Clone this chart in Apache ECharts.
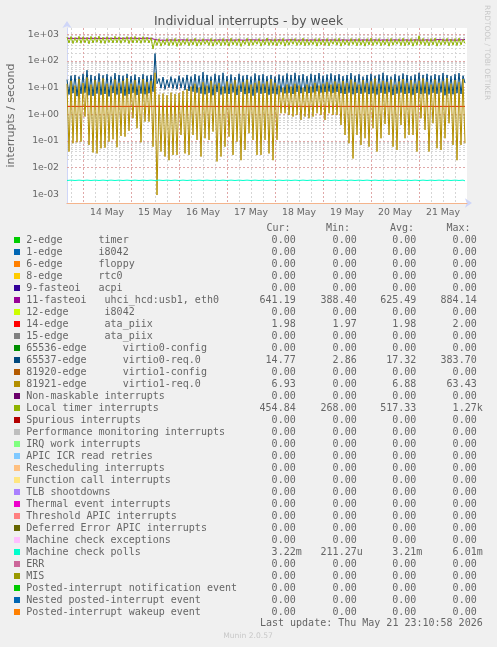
<!DOCTYPE html>
<html><head><meta charset="utf-8">
<script src="https://cdn.jsdelivr.net/npm/echarts@6/dist/echarts.min.js"></script>
<style>html,body{margin:0;padding:0;background:#F0F0F0;}#chart{width:497px;height:647px;}</style>
</head><body><div id="chart"></div>
<script>
// ---------- categories: hourly samples from 13 May 16:00 to 22 May 00:00 ----------
const MONTHS = ['Jan','Feb','Mar','Apr','May','Jun','Jul','Aug','Sep','Oct','Nov','Dec'];
const categories = [];
const t0 = Date.UTC(2026, 4, 13, 16);
for (let i = 0; i <= 200; i++) {
  const d = new Date(t0 + i * 3600e3);
  categories.push(d.getUTCDate() + ' ' + MONTHS[d.getUTCMonth()] + ' ' + String(d.getUTCHours()).padStart(2, '0') + ':00');
}

// ---------- series values (interrupts / second) ----------
const fasteoi11 = [
 700,705,710,700,695,705,710,700,
 705,700,710,715,700,695,705,710,700,690,700,705,715,710,700,705,695,700,710,705,700,715,720,705,
 710,700,705,715,700,710,705,700,720,710,700,690,640,590,600,610,605,615,600,610,620,605,600,615,
 610,600,620,615,605,600,610,620,615,605,600,595,610,620,615,600,605,610,600,615,620,610,605,600,
 615,620,610,600,605,615,620,610,600,605,615,610,620,625,615,600,610,605,600,615,620,610,615,605,
 600,610,620,615,605,600,610,620,625,615,610,600,605,615,620,610,600,605,615,620,610,605,600,615,
 620,610,605,600,615,620,610,605,600,610,620,615,605,600,610,620,615,610,605,600,615,620,610,600,
 605,615,620,610,600,605,615,620,610,600,605,610,620,615,605,600,610,620,615,605,600,610,620,615,
 610,600,605,615,620,610,600,605,615,620,640,625,610,600,605,615,620,610,600,605,615,620,630,641
];
const ataPiix14 = [
 1.98,1.98,1.98,1.98,1.98,1.98,1.98,1.98,
 1.98,1.98,1.98,1.98,1.98,1.98,1.98,1.98,1.98,1.98,1.98,1.98,1.98,1.98,1.98,1.98,1.98,1.98,1.98,1.98,1.98,1.98,1.98,1.98,
 1.98,1.98,1.98,1.98,1.98,1.98,1.98,1.98,1.98,1.98,1.98,1.98,2.00,1.97,1.98,1.98,1.98,1.98,1.98,1.98,1.98,1.98,1.98,1.98,
 1.98,1.98,1.98,1.98,1.98,1.98,1.98,1.98,1.98,1.98,1.98,1.98,1.98,1.98,1.98,1.98,1.98,1.98,1.98,1.98,1.98,1.98,1.98,1.98,
 1.98,1.98,1.98,1.98,1.98,1.98,1.98,1.98,1.98,1.98,1.98,1.98,1.98,1.98,1.98,1.98,1.98,1.98,1.98,1.98,1.98,1.98,1.98,1.98,
 1.98,1.98,1.98,1.98,1.98,1.98,1.98,1.98,1.98,1.98,1.98,1.98,1.98,1.98,1.98,1.98,1.98,1.98,1.98,1.98,1.98,1.98,1.98,1.98,
 1.98,1.98,1.98,1.98,1.98,1.98,1.98,1.98,1.98,1.98,1.98,1.98,1.98,1.98,1.98,1.98,1.98,1.98,1.98,1.98,1.98,1.98,1.98,1.98,
 1.98,1.98,1.98,1.98,1.98,1.98,1.98,1.98,1.98,1.98,1.98,1.98,1.98,1.98,1.98,1.98,1.98,1.98,1.98,1.98,1.98,1.98,1.98,1.98,
 1.98,1.98,1.98,1.98,1.98,1.98,1.98,1.98,1.98,1.98,1.98,1.98,1.98,1.98,1.98,1.98,1.98,1.98,1.98,1.98,1.98,1.98,1.98,1.98
];
const virtio0Req = [
 20,5.5,28,6.2,30,4.8,26,5.9,
 33,6.5,45,5.2,30,4.9,27,6.0,34,5.4,29,5.8,32,4.7,26,6.3,35,5.5,30,6.1,28,5.0,33,5.7,
 27,6.4,31,5.3,25,6.0,32,5.6,28,6.2,30,7.0,190,14,22,9.5,25,8.6,20,10,26,9.2,22,8.8,
 28,9.5,24,8.2,30,7.5,26,7.0,32,6.5,28,6.0,38,5.6,30,6.4,26,5.2,33,6.8,29,5.5,36,6.1,
 27,5.8,31,6.6,25,5.3,33,6.9,28,5.7,30,6.2,26,5.0,34,6.5,29,5.9,32,6.3,27,5.4,30,6.0,
 26,5.6,31,6.7,28,6.1,34,6.4,30,5.8,36,6.9,29,6.2,32,7.0,27,6.3,33,6.6,30,7.2,35,6.5,
 28,6.8,31,7.1,34,6.4,29,6.9,32,6.2,27,5.8,30,6.5,35,5.6,28,6.3,32,5.9,26,6.6,30,5.7,
 33,6.1,28,5.5,31,6.4,36,5.9,29,6.7,26,5.3,32,6.0,28,6.5,34,5.8,30,6.2,27,5.4,31,6.3,
 36,5.7,30,6.1,33,5.5,28,6.4,32,5.9,29,6.6,35,5.2,30,6.0,27,5.6,32,6.2,35,5.8,28,14.8
];
const virtio1Req = [
 14,0.040,18,0.082,12,0.089,21,0.094,
 15,0.82,24,0.071,13,0.037,19,0.034,16,0.053,22,0.056,14,0.094,12,0.115,20,0.058,15,0.154,18,0.145,23,0.24,
 14,0.71,19,0.3,12,0.089,21,0.53,16,0.53,18,0.061,36,0.00094,5.5,0.040,6.0,0.026,5.2,0.019,6.5,0.030,5.8,0.030,
 6.2,0.168,7.5,0.034,9,0.030,11,0.168,14,0.109,10,0.026,16,0.126,12,0.109,18,0.224,13,0.017,15,0.026,11,0.061,
 17,0.145,14,0.030,19,0.094,12,0.019,16,0.046,20,0.194,13,0.109,15,0.030,18,0.030,14,0.109,17,0.034,21,0.019,
 15,0.109,12,1.09,10,1.09,13,0.944,11,0.818,14,0.944,12,0.613,10,0.818,13,0.708,11,0.818,15,1.09,12,0.944,
 14,0.613,16,1.09,13,0.944,17,0.944,14,0.398,18,0.168,15,0.082,20,0.022,16,0.168,13,0.071,19,0.126,15,0.061,
 17,0.299,22,0.040,14,0.126,18,0.43,16,0.168,20,0.061,13,0.046,17,0.398,21,0.126,15,0.168,19,0.168,14,0.040,
 18,0.708,22,0.259,16,0.040,13,0.46,20,0.053,15,0.046,17,0.126,23,0.46,14,0.071,19,0.019,16,0.071,21,0.082
];
const localTimer = [
 790,470,820,450,760,490,840,460,
 800,480,770,440,830,470,790,500,850,460,780,450,810,490,760,470,840,480,800,460,770,500,820,450,
 790,470,830,480,760,460,810,490,780,470,750,280,640,380,680,360,620,400,690,370,650,390,700,350,
 660,380,630,410,690,370,650,400,710,360,640,390,680,420,620,380,700,360,660,410,630,370,690,390,
 650,360,710,400,640,380,680,350,620,410,700,370,660,390,630,420,690,360,650,400,720,380,640,390,
 680,370,650,410,700,360,630,390,670,420,690,380,640,400,710,370,660,390,630,410,680,360,700,400,
 650,380,690,370,640,420,680,390,710,360,650,400,630,380,690,410,660,370,700,390,640,360,680,400,
 720,380,650,410,690,370,630,400,670,360,700,390,640,420,680,380,710,370,650,400,690,360,660,390,
 880,410,700,380,650,370,690,400,720,360,640,390,680,410,700,370,660,390,690,380,720,400,650,455
];
const machineCheckPolls = [
 0.0033,0.0031,0.0034,0.0030,0.0033,0.0031,0.0034,0.0030,
 0.0033,0.0031,0.0034,0.0030,0.0033,0.0031,0.0034,0.0030,0.0033,0.0038,0.0034,0.0030,0.0033,0.0031,0.0034,0.0030,0.0033,0.0031,0.0034,0.0030,0.0033,0.0031,0.0034,0.0030,
 0.0033,0.0031,0.0034,0.0030,0.0033,0.0031,0.0034,0.0030,0.0033,0.0031,0.0034,0.0030,0.0033,0.0031,0.0034,0.0030,0.0033,0.0031,0.0034,0.0030,0.0033,0.0031,0.0034,0.0030,
 0.0033,0.0031,0.0034,0.0030,0.0033,0.0031,0.0034,0.0030,0.0033,0.0031,0.0034,0.0030,0.0033,0.0031,0.0034,0.0030,0.0033,0.0031,0.0034,0.0030,0.0033,0.0031,0.0034,0.0030,
 0.0033,0.0031,0.0034,0.0030,0.0033,0.0031,0.0034,0.0030,0.0033,0.0031,0.0034,0.0030,0.0033,0.0031,0.0034,0.0030,0.0033,0.0031,0.0034,0.0030,0.0033,0.0031,0.0034,0.0030,
 0.0033,0.0031,0.0034,0.0030,0.0033,0.0031,0.0034,0.0030,0.0033,0.0031,0.0034,0.0030,0.0033,0.0031,0.0034,0.0030,0.0033,0.0031,0.0034,0.0030,0.0033,0.0031,0.0034,0.0030,
 0.0033,0.0031,0.0034,0.0030,0.0033,0.0031,0.0034,0.0030,0.0033,0.0031,0.0034,0.0030,0.0033,0.0031,0.0034,0.0030,0.0033,0.0031,0.0034,0.0030,0.0033,0.0031,0.0034,0.0030,
 0.0033,0.0031,0.0034,0.0030,0.0033,0.0031,0.0034,0.0030,0.0033,0.0031,0.0034,0.0030,0.0033,0.0031,0.0034,0.0030,0.0033,0.0031,0.0034,0.0030,0.0033,0.0031,0.0034,0.0030,
 0.0033,0.0031,0.0034,0.0030,0.0033,0.0031,0.0034,0.0030,0.0033,0.0031,0.0034,0.0030,0.0033,0.0031,0.0034,0.0030,0.0033,0.0031,0.0034,0.0030,0.0033,0.0031,0.0034,0.0032
];

// ---------- axis tick labels ----------
const yTickLabels = ['1e-03','1e-02','1e-01','1e+00','1e+01','1e+02','1e+03'];
const yMajor = [1e-3, 1e-2, 1e-1, 1, 10, 100, 1000];
const yMin = Math.pow(10, -3.326), yMax = Math.pow(10, 3.236);

// ---------- legend ----------
const legendLabels = [
 '2-edge      timer','1-edge      i8042','6-edge      floppy','8-edge      rtc0','9-fasteoi   acpi',
 '11-fasteoi   uhci_hcd:usb1, eth0','12-edge      i8042','14-edge      ata_piix','15-edge      ata_piix',
 '65536-edge      virtio0-config','65537-edge      virtio0-req.0','81920-edge      virtio1-config','81921-edge      virtio1-req.0',
 'Non-maskable interrupts','Local timer interrupts','Spurious interrupts','Performance monitoring interrupts',
 'IRQ work interrupts','APIC ICR read retries','Rescheduling interrupts','Function call interrupts','TLB shootdowns',
 'Thermal event interrupts','Threshold APIC interrupts','Deferred Error APIC interrupts','Machine check exceptions',
 'Machine check polls','ERR','MIS','Posted-interrupt notification event','Nested posted-interrupt event','Posted-interrupt wakeup event'
];
const legendColors = ['#00CC00','#0066B3','#FF8000','#FFCC00','#330099','#990099','#CCFF00','#FF0000','#808080','#008F00',
 '#00487D','#B35A00','#B38F00','#6B006B','#8FB300','#B30000','#BEBEBE','#80FF80','#80C9FF','#FFC080','#FFE680','#AA80FF',
 '#EE00CC','#FF8080','#666600','#FFBFFF','#00FFCC','#CC6699','#999900','#00CC00','#0066B3','#FF8000'];
const Z = '0.00';
const curVals = [Z,Z,Z,Z,Z,'641.19',Z,'1.98',Z,Z,'14.77',Z,'6.93',Z,'454.84',Z,Z,Z,Z,Z,Z,Z,Z,Z,Z,Z,'3.22m',Z,Z,Z,Z,Z];
const minVals = [Z,Z,Z,Z,Z,'388.40',Z,'1.97',Z,Z,'2.86',Z,'0.00',Z,'268.00',Z,Z,Z,Z,Z,Z,Z,Z,Z,Z,Z,'211.27u',Z,Z,Z,Z,Z];
const avgVals = [Z,Z,Z,Z,Z,'625.49',Z,'1.98',Z,Z,'17.32',Z,'6.88',Z,'517.33',Z,Z,Z,Z,Z,Z,Z,Z,Z,Z,Z,'3.21m',Z,Z,Z,Z,Z];
const maxVals = [Z,Z,Z,Z,Z,'884.14',Z,'2.00',Z,Z,'383.70',Z,'63.43',Z,'1.27k',Z,Z,Z,Z,Z,Z,Z,Z,Z,Z,Z,'6.01m',Z,Z,Z,Z,Z];
const colHeaders = ['Cur:','Min:','Avg:','Max:'];

// ---------- layout / style ----------
const FONT = '"DejaVu Sans", sans-serif';
const MONO = '"DejaVu Sans Mono", monospace';
const TXT = '#666666';
const G_LEFT = 67, G_TOP = 28, G_W = 400, G_H = 175;

const minorY = [];
for (let e = -4; e <= 3; e++) for (let k = 2; k <= 9; k++) {
  const v = k * Math.pow(10, e);
  if (v > yMin && v < yMax) minorY.push(v);
}
const gridLines = minorY.map(v => ({yAxis: v, lineStyle: {color: '#D6D6D6'}}))
  .concat(yMajor.map(v => ({yAxis: v, lineStyle: {color: '#E0A8A8'}})));

function lineSeries(name, data, color) {
  return {name, type: 'line', data, symbol: 'none', showSymbol: false, silent: true, animation: false,
    lineStyle: {width: 1, color}, itemStyle: {color}, emphasis: {disabled: true}, z: 3};
}

const graphics = [];
graphics.push({type: 'text', x: 487, y: 5, rotation: -Math.PI / 2,
  style: {text: 'RRDTOOL / TOBI OETIKER', font: '7.4px ' + FONT, fill: '#C8C8C8', textAlign: 'left', textVerticalAlign: 'middle'}});
const hdrX = [266.5, 326, 390, 446.5];
colHeaders.forEach((h, j) => graphics.push({type: 'text', x: hdrX[j], y: 228,
  style: {text: h, font: '10px ' + MONO, fill: TXT, textAlign: 'left', textVerticalAlign: 'middle'}}));
const colRight = [295.7, 356.7, 416.3, 476.7];
const cols = [curVals, minVals, avgVals, maxVals];
legendLabels.forEach((lab, i) => {
  const y = 240 + i * 12;
  graphics.push({type: 'rect', shape: {x: 14, y: y - 3, width: 6, height: 6}, style: {fill: legendColors[i]}});
  graphics.push({type: 'text', x: 26.3, y, style: {text: lab, font: '10px ' + MONO, fill: TXT, textAlign: 'left', textVerticalAlign: 'middle'}});
  cols.forEach((arr, j) => {
    let s = arr[i], suf = '';
    if (/[a-z]$/i.test(s)) { suf = s.slice(-1); s = s.slice(0, -1); }
    graphics.push({type: 'text', x: colRight[j], y, style: {text: s, font: '10px ' + MONO, fill: TXT, textAlign: 'right', textVerticalAlign: 'middle'}});
    if (suf) graphics.push({type: 'text', x: colRight[j], y, style: {text: suf, font: '10px ' + MONO, fill: TXT, textAlign: 'left', textVerticalAlign: 'middle'}});
  });
});
graphics.push({type: 'text', x: 482.7, y: 623.5, style: {text: 'Last update: Thu May 21 23:10:58 2026', font: '10px ' + MONO, fill: TXT, textAlign: 'right', textVerticalAlign: 'middle'}});
graphics.push({type: 'text', x: 248, y: 636, style: {text: 'Munin 2.0.57', font: '7.6px ' + FONT, fill: '#C8C8C8', textAlign: 'center', textVerticalAlign: 'middle'}});

const isNoon = (i, v) => v.endsWith(' 12:00');
const isMidnight = (i, v) => v.endsWith(' 00:00') && i > 0 && i < categories.length - 1;
const isSixHour = (i, v) => (v.endsWith(' 06:00') || v.endsWith(' 18:00') || v.endsWith(' 12:00'));

const option = {
  backgroundColor: '#F0F0F0',
  animation: false,
  title: {text: 'Individual interrupts - by week', left: 'center', top: 11,
    textStyle: {fontSize: 12.4, fontWeight: 'normal', color: '#555555', fontFamily: FONT}},
  grid: {left: G_LEFT, top: G_TOP, width: G_W, height: G_H, show: true, backgroundColor: '#FFFFFF', borderWidth: 0,
    containLabel: false, outerBoundsMode: 'none'},
  xAxis: [{
    type: 'category', data: categories, boundaryGap: false, position: 'bottom', z: 2,
    axisLine: {show: true, lineStyle: {color: '#F4B48C', width: 1}},
    axisTick: {show: false},
    axisLabel: {interval: isNoon, formatter: v => v.slice(0, v.lastIndexOf(' ')), fontSize: 9.3, color: TXT, fontFamily: FONT, margin: 5},
    splitLine: {show: true, interval: isMidnight, lineStyle: {color: '#E0A8A8', type: [2, 2], width: 1}}
  }, {
    type: 'category', data: categories, boundaryGap: false, position: 'bottom', z: 1,
    axisLine: {show: true, symbol: ['none', 'arrow'], symbolSize: [7, 7], symbolOffset: [0, 5], lineStyle: {color: '#CFD6F8', width: 1}},
    axisTick: {show: false}, axisLabel: {show: false},
    splitLine: {show: true, interval: isSixHour, lineStyle: {color: '#D6D6D6', type: [2, 2], width: 1}}
  }],
  yAxis: {
    type: 'log', logBase: 10, min: yMin, max: yMax, splitNumber: 6,
    axisLine: {show: true, symbol: ['none', 'arrow'], symbolSize: [7, 7], symbolOffset: [0, 7], lineStyle: {color: '#CFD6F8', width: 1}},
    axisTick: {show: false},
    splitLine: {show: false},
    axisLabel: {fontSize: 9.3, color: TXT, fontFamily: FONT, margin: 8,
      formatter: v => {
        const e = Math.log10(v), r = Math.round(e);
        return Math.abs(e - r) < 1e-6 && r >= -3 && r <= 3 ? yTickLabels[r + 3] : '';
      }},
    name: 'interrupts / second', nameLocation: 'middle', nameRotate: 90, nameGap: 50,
    nameTextStyle: {fontSize: 11, color: TXT, fontFamily: FONT}
  },
  series: [
    {name: 'grid', type: 'line', data: [], silent: true, animation: false, z: 1,
      markLine: {silent: true, symbol: 'none', z: 1, animation: false, label: {show: false},
        lineStyle: {type: [2, 2], width: 1}, emphasis: {disabled: true}, data: gridLines}},
    lineSeries('11-fasteoi', fasteoi11, '#990099'),
    lineSeries('14-edge', ataPiix14, '#FF0000'),
    lineSeries('65537-edge', virtio0Req, '#00487D'),
    lineSeries('81921-edge', virtio1Req, '#B38F00'),
    lineSeries('Local timer interrupts', localTimer, '#8FB300'),
    lineSeries('Machine check polls', machineCheckPolls, '#00FFCC')
  ],
  graphic: graphics
};
const chart = echarts.init(document.getElementById('chart'), null, {renderer: 'canvas'});
chart.setOption(option);
</script></body></html>
